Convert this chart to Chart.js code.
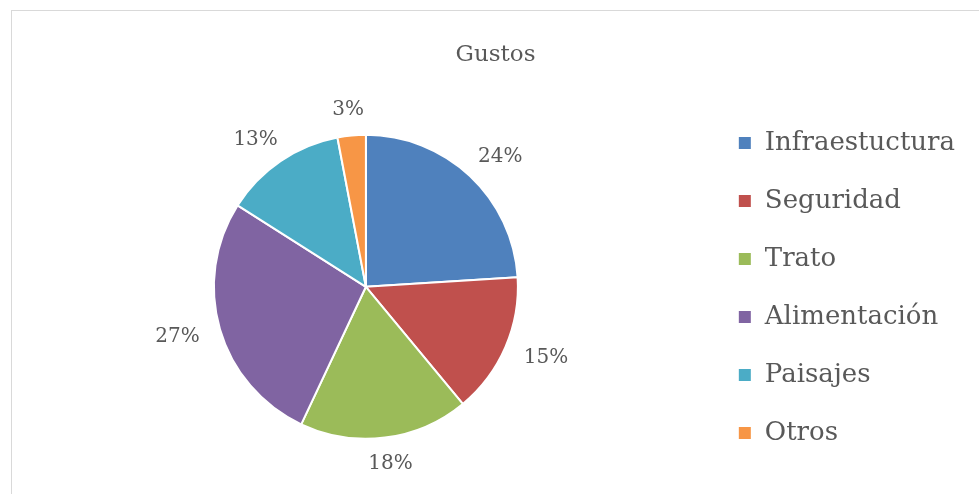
<!DOCTYPE html>
<html lang="es">
  <head>
    <meta charset="UTF-8" />
    <title>Gustos</title>
    <style>
      body { margin: 0; background: #fff; overflow: hidden; }
      #frame {
        position: absolute; left: 11px; top: 10px;
        width: 1000px; height: 500px;
        border: 1px solid #d9d9d9;
      }
      #chart { position: absolute; left: 0; top: 0; }
    </style>
  </head>
  <body>
    <div id="frame">
      <canvas id="chart" width="953" height="483"></canvas>
    </div>
    <script src="https://cdn.jsdelivr.net/npm/chart.js"></script>
    <script>
      const categories = ["Infraestuctura", "Seguridad", "Trato", "Alimentación", "Paisajes", "Otros"];
      const percents = [24, 15, 18, 27, 13, 3];
      const colors = ["#4F81BD", "#C0504D", "#9BBB59", "#8064A2", "#4BACC6", "#F79646"];

      const textColor = "#595959";
      const serif = "'DejaVu Serif', serif";

      // percentage labels outside each slice
      const outsideLabels = {
        id: "outsideLabels",
        afterDatasetsDraw(chart) {
          const ctx = chart.ctx;
          const meta = chart.getDatasetMeta(0);
          ctx.save();
          ctx.font = "20px " + serif;
          ctx.fillStyle = textColor;
          ctx.textAlign = "center";
          ctx.textBaseline = "middle";
          meta.data.forEach((arc, i) => {
            const p = arc.getProps(["x", "y", "startAngle", "endAngle", "outerRadius"], true);
            const mid = (p.startAngle + p.endAngle) / 2;
            const txt = percents[i] + "%";
            const w = ctx.measureText(txt).width;
            const h = 8;
            const r = p.outerRadius + 22;
            const x = p.x + Math.cos(mid) * r + Math.cos(mid) * w / 2;
            const y = p.y + Math.sin(mid) * r + Math.sin(mid) * h / 2;
            ctx.fillText(txt, x, y);
          });
          ctx.restore();
        },
      };

      new Chart(document.getElementById("chart"), {
        type: "pie",
        data: {
          labels: categories,
          datasets: [
            {
              data: percents,
              backgroundColor: colors,
              borderColor: "#ffffff",
              borderWidth: 2,
              radius: 152,
            },
          ],
        },
        options: {
          responsive: false,
          animation: false,
          layout: { padding: { left: 14, right: 0, top: 0, bottom: 0 } },
          plugins: {
            title: {
              display: true,
              text: "Gustos",
              color: textColor,
              font: { family: serif, size: 23, weight: "normal" },
              padding: { top: 30, bottom: 11 },
            },
            legend: {
              position: "right",
              align: "start",
              title: {
                display: true,
                text: " ",
                font: { size: 10 },
                padding: { top: 75, bottom: 0 },
              },
              labels: {
                color: textColor,
                font: { family: serif, size: 26 },
                boxWidth: 14,
                boxHeight: 14,
                padding: 32,
              },
            },
            tooltip: { enabled: false },
          },
        },
        plugins: [outsideLabels],
      });
    </script>
  </body>
</html>
